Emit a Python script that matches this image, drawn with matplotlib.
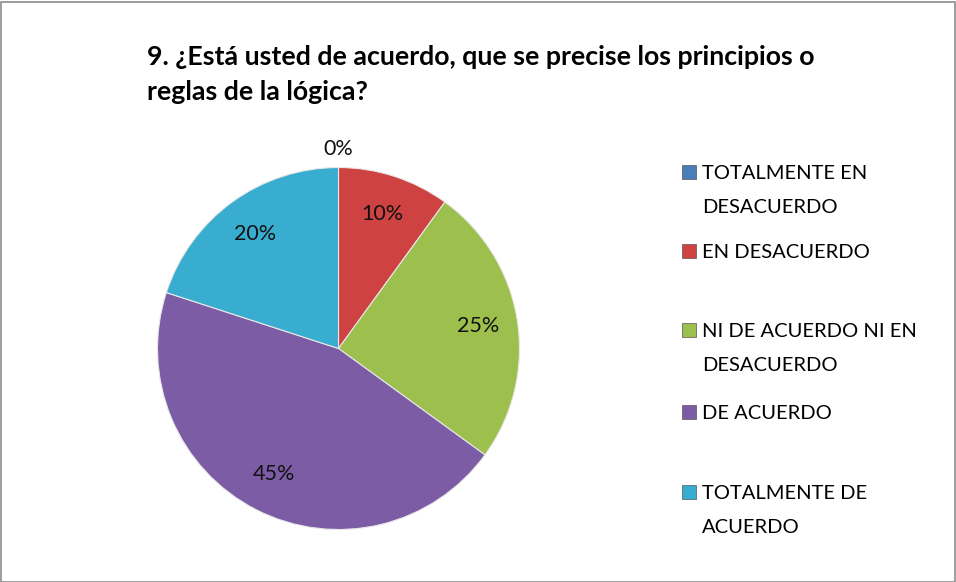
import matplotlib
matplotlib.use("Agg")
import matplotlib.pyplot as plt
from matplotlib.patches import Rectangle
import numpy as np

title_lines = ["9. ¿Está usted de acuerdo, que se precise los principios o", "reglas de la lógica?"]
categories = ["TOTALMENTE EN\nDESACUERDO", "EN DESACUERDO", "NI DE ACUERDO NI EN\nDESACUERDO",
              "DE ACUERDO", "TOTALMENTE DE\nACUERDO"]
values = [0, 10, 25, 45, 20]
colors = ["#4A7EBB", "#CF4242", "#9CBF4E", "#7C5CA5", "#38ADCF"]

W, H = 956, 582
fig = plt.figure(figsize=(W / 100, H / 100), dpi=100)
fig.patch.set_facecolor("white")
fig.add_artist(Rectangle((0.5 / W, 0.5 / H), (W - 2) / W, (H - 2) / H, transform=fig.transFigure,
                         fill=False, edgecolor="#8c8c8c", linewidth=1.2))

font = "Lato"
cx, cy, r = 338.5, 348.5, 181
ax = fig.add_axes([(cx - r) / W, (H - cy - r) / H, 2 * r / W, 2 * r / H])
wedges, texts, autotexts = ax.pie(values, colors=colors, startangle=90, counterclock=False,
                                  autopct=lambda p: f"{p:.0f}%", pctdistance=0.78,
                                  wedgeprops=dict(edgecolor="#e8e8e8", linewidth=0.8),
                                  textprops=dict(fontsize=15.5, family=font, color="#111111"))
ax.set_xlim(-1, 1)
ax.set_ylim(-1, 1)
ax.set_aspect("equal")
for v, t in zip(values, autotexts):
    if v == 0:
        x, y = t.get_position()
        t.set_position((x / 0.78 * 1.1, y / 0.78 * 1.1))

for line, yb in zip(title_lines, [65, 100]):
    fig.text(147 / W, 1 - yb / H, line, ha="left", va="baseline", fontsize=19.3, fontweight="bold",
             family=font, color="#000000")

tops = [172, 251, 330, 412, 492]
for lab, col, yt in zip(categories, colors, tops):
    fig.add_artist(Rectangle((682 / W, 1 - (yt + 7) / H), 14 / W, 14 / H, transform=fig.transFigure,
                             facecolor=col, edgecolor="#555555", linewidth=0.5))
    for k, line in enumerate(lab.split("\n")):
        fig.text(702 / W, 1 - (yt + 7 + 34 * k) / H, line, ha="left", va="baseline", fontsize=14.5,
                 family=font, color="#000000")

fig.savefig("out.png", dpi=100)
